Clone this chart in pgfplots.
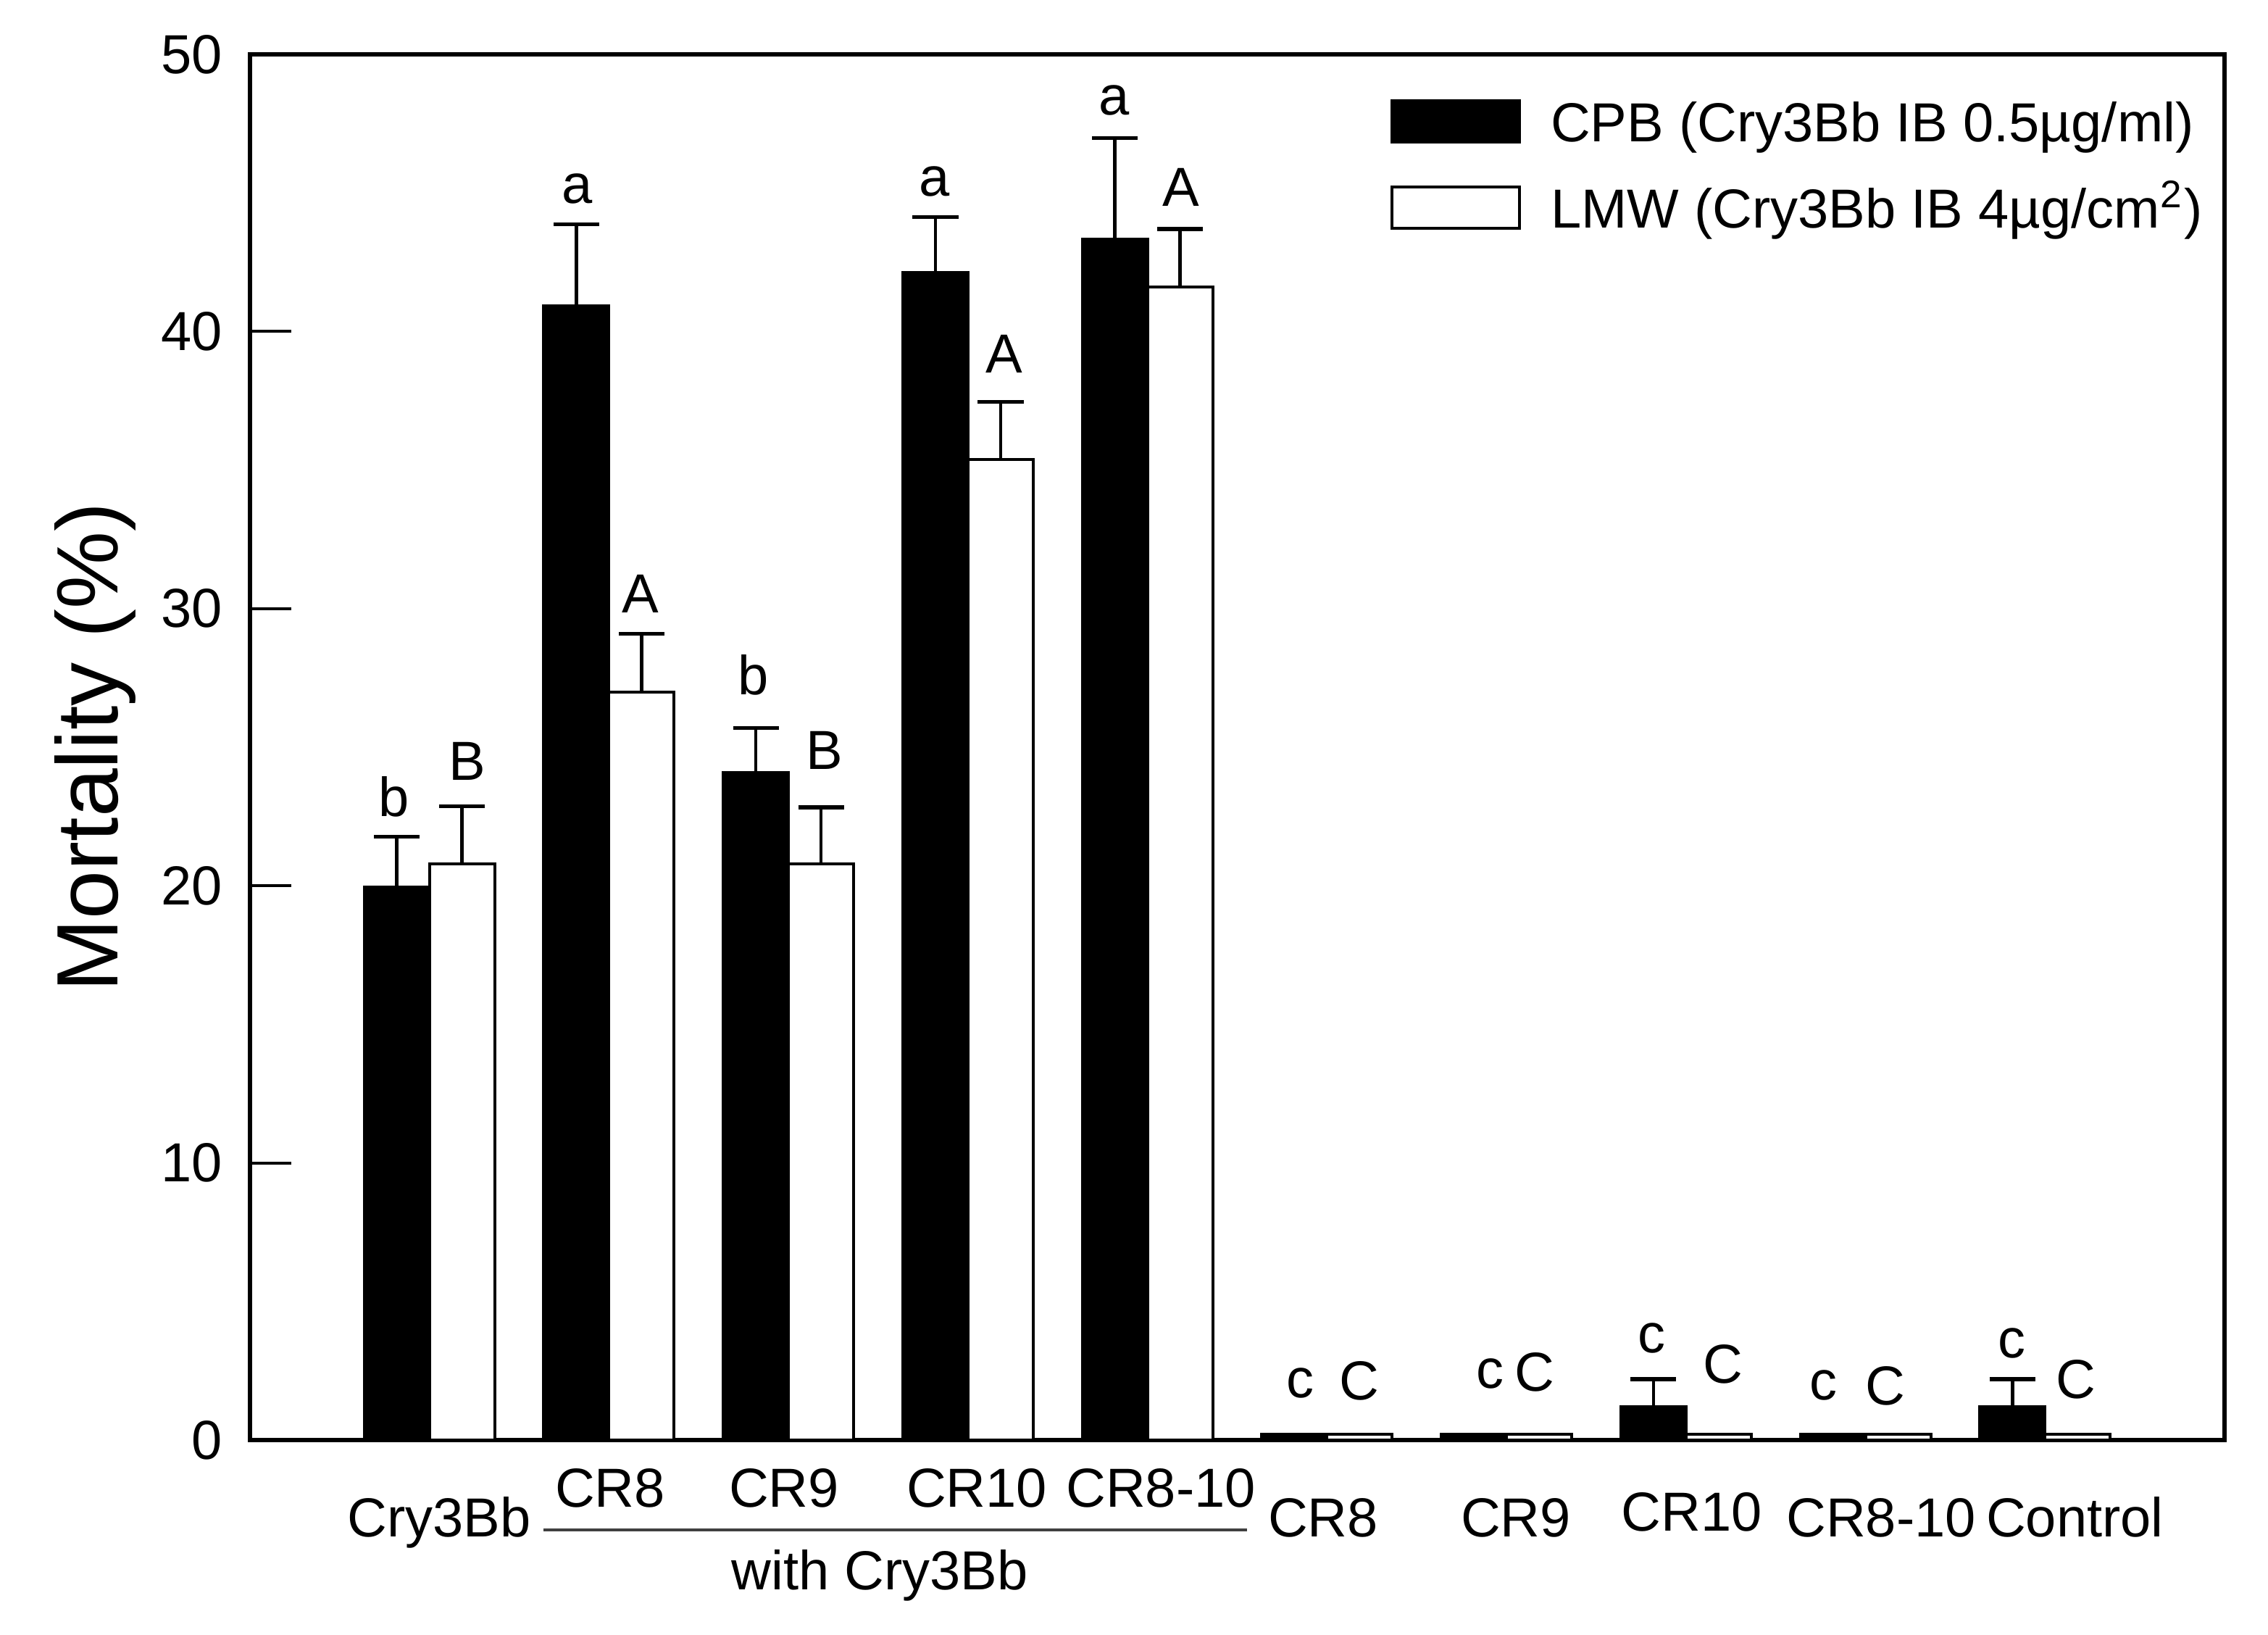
\documentclass[border=0pt]{standalone}
\usepackage{fontspec}
\setmainfont{Liberation Sans}
\usepackage{pgfplots}
\usepackage{pgfplotstable}
\pgfplotsset{compat=1.18}
\pgfplotsset{mylegend/.style={legend image code/.code={\draw[##1] (0mm,-0.05mm) rectangle (8.8mm,2.8mm);}}}

\pgfplotstableread{
x y err
0 19.95 1.83
1 40.93 2.93
2 24.08 1.62
3 42.13 1.99
4 43.33 3.66
7 1.20 1.00
9 1.20 1.00
}\blackerr
\pgfplotstableread{
x y err
0 20.79 2.09
1 27.00 2.10
2 20.79 2.04
3 35.38 2.09
4 41.60 2.10
}\whiteerr
\pgfplotstableread{
x y
5 0.2
6 0.2
8 0.2
}\blacksmall
\pgfplotstableread{
x y
5 0.2
6 0.2
7 0.2
8 0.2
9 0.2
}\whitesmall

\begin{document}
\begin{tikzpicture}[font=\fontsize{10.8}{13}\selectfont]
\path[use as bounding box] (0,0) rectangle (156.5mm,112.75mm);
\begin{axis}[
  at={(17.25mm,13.4mm)}, anchor=south west,
  scale only axis, width=136.25mm, height=95.6mm,
  xmin=-1, xmax=10, ymin=0, ymax=50,
  ytick={0,10,20,30,40,50}, xtick=\empty,
  tick align=inside, ytick pos=left,
  major tick length=2.85mm,
  every tick/.style={line width=0.2mm, black},
  axis line style={line width=0.27mm},
  /pgf/number format/assume math mode=true,
  yticklabel style={inner sep=0pt, xshift=-1.85mm},
  ylabel={Mortality (\%)},
  every axis y label/.style={at={([xshift=-9.15mm]axis description cs:0,0.5)}, rotate=90, anchor=base, font=\fontsize{17.1}{20}\selectfont},
  clip=false,
  legend cell align=left,
  legend style={at={(rel axis cs:0.5776,0.9685)}, anchor=north west, draw=none, fill=none,
    inner sep=0pt, outer sep=0pt, row sep=1.94mm, column sep=2.05mm,
    nodes={inner sep=0pt, text height=3mm, text depth=1mm, anchor=base west}},
  error bars/error bar style={line width=0.23mm, black},
  error bars/error mark options={rotate=90, mark size=1.58mm, line width=0.26mm, black},
]
\addplot[ybar, bar width=0.3633, bar shift=0, fill=black, draw=black, line width=0.2mm, mylegend,
  error bars/.cd, y dir=plus, y explicit]
  table[x expr=\thisrow{x}-0.18165, y=y, y error=err] {\blackerr};
\addlegendentry{CPB (Cry3Bb IB 0.5µg/ml)}
\addplot[ybar, bar width=0.3633, bar shift=0, fill=white, draw=black, line width=0.2mm, mylegend,
  error bars/.cd, y dir=plus, y explicit]
  table[x expr=\thisrow{x}+0.18165, y=y, y error=err] {\whiteerr};
\addlegendentry{LMW (Cry3Bb IB 4µg/cm\textsuperscript{2})}
\addplot[ybar, bar width=0.3633, bar shift=0, fill=black, draw=black, line width=0.2mm, forget plot]
  table[x expr=\thisrow{x}-0.18165, y=y] {\blacksmall};
\addplot[ybar, bar width=0.3633, bar shift=0, fill=white, draw=black, line width=0.2mm, forget plot]
  table[x expr=\thisrow{x}+0.18165, y=y] {\whitesmall};

% significance letters
\node[anchor=base] at (axis cs:-0.197,22.5) {b};
\node[anchor=base] at (axis cs:0.212,23.82) {B};
\node[anchor=base] at (axis cs:0.821,44.64) {a};
\node[anchor=base] at (axis cs:1.176,29.84) {A};
\node[anchor=base] at (axis cs:1.802,26.9) {b};
\node[anchor=base] at (axis cs:2.200,24.21) {B};
\node[anchor=base] at (axis cs:2.812,44.9) {a};
\node[anchor=base] at (axis cs:3.202,38.52) {A};
\node[anchor=base] at (axis cs:3.816,47.83) {a};
\node[anchor=base] at (axis cs:4.187,44.53) {A};
\node[anchor=base] at (axis cs:4.849,1.54) {c};
\node[anchor=base] at (axis cs:5.18,1.46) {C};
\node[anchor=base] at (axis cs:5.907,1.86) {c};
\node[anchor=base] at (axis cs:6.157,1.77) {C};
\node[anchor=base] at (axis cs:6.81,3.15) {c};
\node[anchor=base] at (axis cs:7.206,2.05) {C};
\node[anchor=base] at (axis cs:7.764,1.46) {c};
\node[anchor=base] at (axis cs:8.111,1.28) {C};
\node[anchor=base] at (axis cs:8.813,2.96) {c};
\node[anchor=base] at (axis cs:9.173,1.5) {C};

% category labels
\node[anchor=base] at (axis cs:0.053,-3.50) {Cry3Bb};
\node[anchor=base] at (axis cs:1.006,-2.43) {CR8};
\node[anchor=base] at (axis cs:1.975,-2.43) {CR9};
\node[anchor=base] at (axis cs:3.049,-2.43) {CR10};
\node[anchor=base] at (axis cs:4.074,-2.43) {CR8-10};
\draw[line width=0.2mm, black!75] (axis cs:0.635,-3.24) -- (axis cs:4.555,-3.24);
\node[anchor=base] at (axis cs:2.508,-5.39) {with Cry3Bb};
\node[anchor=base] at (axis cs:4.978,-3.50) {CR8};
\node[anchor=base] at (axis cs:6.052,-3.50) {CR9};
\node[anchor=base] at (axis cs:7.033,-3.27) {CR10};
\node[anchor=base] at (axis cs:8.087,-3.50) {CR8-10};
\node[anchor=base] at (axis cs:9.166,-3.50) {Control};
\end{axis}
\end{tikzpicture}
\end{document}
